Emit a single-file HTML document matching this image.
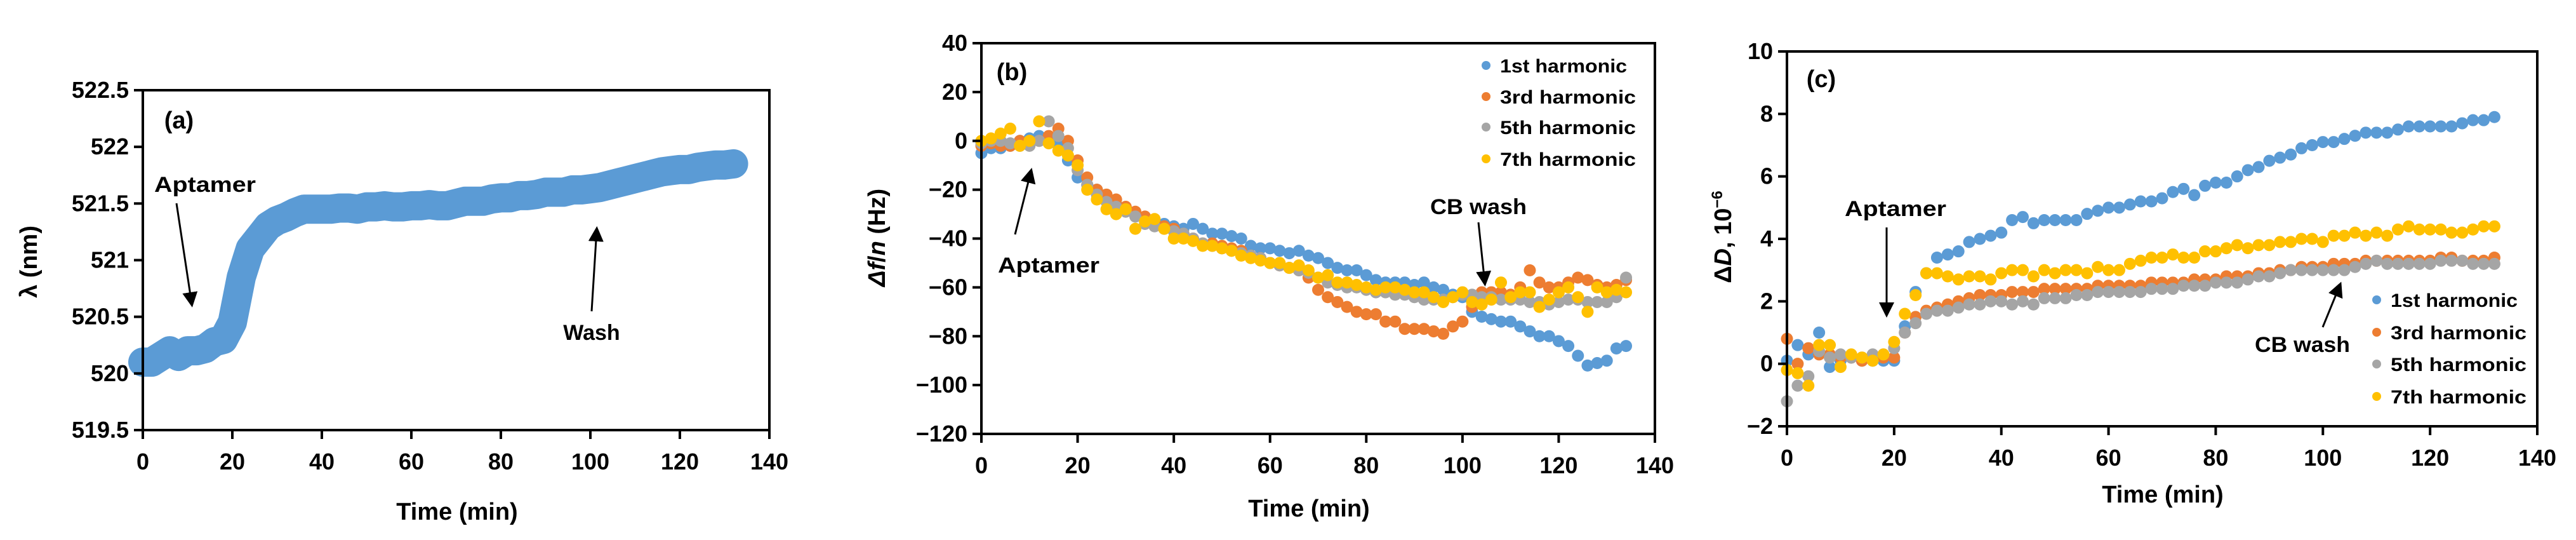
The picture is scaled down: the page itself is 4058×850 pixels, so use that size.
<!DOCTYPE html>
<html><head><meta charset="utf-8"><style>
html,body{margin:0;padding:0;background:#fff;}
svg{display:block;font-family:"Liberation Sans",sans-serif;font-weight:bold;}
</style></head><body>
<svg id="fig" width="4058" height="850" viewBox="0 0 4058 850" xmlns="http://www.w3.org/2000/svg">
<defs><marker id="ah" markerWidth="8" markerHeight="8" refX="6" refY="4" orient="auto" markerUnits="strokeWidth"><path d="M0,0 L8,4 L0,8 z" fill="#000"/></marker></defs>
</svg>
<script>
// ---------- data ----------
const timeA = [0,2,4,6,8,10,12,14,16,18,20,22,24,26,28,30,32,34,36,38,40,42,44,46,48,50,52,54,56,58,60,62,64,66,68,70,72,74,76,78,80,82,84,86,88,90,92,94,96,98,100,102,104,106,108,110,112,114,116,118,120,122,124,126,128,130,132];
const lambdaA = [520.1,520.1,520.15,520.2,520.15,520.2,520.2,520.22,520.28,520.3,520.45,520.85,521.1,521.2,521.3,521.35,521.38,521.42,521.45,521.45,521.45,521.45,521.46,521.46,521.45,521.47,521.47,521.48,521.47,521.47,521.48,521.48,521.49,521.48,521.48,521.5,521.52,521.52,521.52,521.54,521.55,521.55,521.57,521.57,521.58,521.6,521.6,521.6,521.62,521.62,521.63,521.64,521.66,521.68,521.7,521.72,521.74,521.76,521.78,521.79,521.8,521.8,521.82,521.83,521.84,521.84,521.85];
const ticksAy = [519.5,520,520.5,521,521.5,522,522.5];
const ticksAyLabels = ["519.5","520","520.5","521","521.5","522","522.5"];
const ticksX = [0,20,40,60,80,100,120,140];

const timeB = [0,2,4,6,8,10,12,14,16,18,20,22,24,26,28,30,32,34,36,38,40,42,44,46,48,50,52,54,56,58,60,62,64,66,68,70,72,74,76,78,80,82,84,86,88,90,92,94,96,98,100,102,104,106,108,110,112,114,116,118,120,122,124,126,128,130,132,134];
const freq1 = [-5,-3,-3,-2,0,1,2,0,-2,-8,-15,-18,-20,-23,-26,-28,-30,-32,-33,-34,-35,-36,-34,-36,-38,-38,-39,-40,-43,-44,-44,-45,-46,-45,-47,-48,-50,-52,-53,-53,-55,-57,-58,-58,-58,-59,-58,-60,-61,-63,-64,-70,-72,-73,-74,-74,-76,-78,-80,-80,-82,-84,-88,-92,-91,-90,-85,-84];
const freq3 = [-2,-1,-2,-2,0,0,0,2,5,0,-8,-15,-20,-22,-24,-27,-29,-31,-33,-35,-36,-38,-40,-42,-42,-43,-44,-45,-47,-48,-50,-51,-52,-53,-56,-61,-64,-66,-68,-70,-71,-71,-74,-74,-77,-77,-77,-78,-79,-76,-74,-68,-62,-62,-62,-63,-60,-53,-58,-60,-60,-58,-56,-57,-59,-60,-59,-57];
const freq5 = [-1,0,0,-1,-2,-2,0,8,2,-3,-12,-18,-22,-25,-27,-29,-31,-34,-35,-36,-37,-38,-40,-42,-43,-44,-45,-46,-47,-48,-50,-51,-52,-53,-54,-56,-58,-59,-60,-60,-61,-62,-62,-63,-63,-64,-65,-65,-65,-64,-63,-63,-64,-64,-65,-65,-65,-66,-66,-67,-66,-65,-65,-66,-66,-66,-64,-56];
const freq7 = [0,1,3,5,-2,0,8,-1,-4,-6,-10,-20,-24,-28,-30,-28,-36,-33,-32,-36,-40,-40,-41,-43,-43,-44,-45,-47,-48,-49,-50,-50,-52,-51,-53,-56,-55,-58,-58,-59,-60,-61,-60,-60,-61,-62,-62,-64,-66,-64,-62,-66,-67,-65,-58,-64,-62,-62,-68,-65,-62,-60,-64,-70,-60,-62,-61,-62];
const ticksBy = [-120,-100,-80,-60,-40,-20,0,20,40];

const timeC = [0,2,4,6,8,10,12,14,16,18,20,22,24,26,28,30,32,34,36,38,40,42,44,46,48,50,52,54,56,58,60,62,64,66,68,70,72,74,76,78,80,82,84,86,88,90,92,94,96,98,100,102,104,106,108,110,112,114,116,118,120,122,124,126,128,130,132];
const diss1 = [0.1,0.6,0.3,1.0,-0.1,0.1,0.2,0.1,0.1,0.1,0.1,1.2,2.3,2.9,3.4,3.5,3.6,3.9,4.0,4.1,4.2,4.6,4.7,4.5,4.6,4.6,4.6,4.6,4.8,4.9,5.0,5.0,5.1,5.2,5.2,5.3,5.5,5.6,5.4,5.7,5.8,5.8,6.0,6.2,6.3,6.5,6.6,6.7,6.9,7.0,7.1,7.1,7.2,7.3,7.4,7.4,7.4,7.5,7.6,7.6,7.6,7.6,7.6,7.7,7.8,7.8,7.9];
const diss3 = [0.8,0.0,0.5,0.3,0.3,0.2,0.2,0.1,0.2,0.2,0.2,1.0,1.5,1.7,1.8,1.9,2.0,2.1,2.2,2.2,2.2,2.3,2.3,2.3,2.4,2.4,2.4,2.4,2.4,2.5,2.5,2.5,2.5,2.5,2.6,2.6,2.6,2.6,2.7,2.7,2.7,2.8,2.8,2.8,2.9,2.9,3.0,3.0,3.1,3.1,3.1,3.2,3.2,3.2,3.3,3.3,3.3,3.3,3.3,3.3,3.3,3.4,3.4,3.3,3.3,3.3,3.4];
const diss5 = [-1.2,-0.7,-0.4,0.4,0.2,0.3,0.2,0.2,0.3,0.3,0.5,1.0,1.3,1.6,1.7,1.7,1.8,1.9,1.9,2.0,2.0,1.9,2.0,1.9,2.1,2.1,2.1,2.2,2.2,2.3,2.3,2.3,2.3,2.3,2.4,2.4,2.4,2.5,2.5,2.5,2.6,2.6,2.6,2.7,2.8,2.8,2.9,3.0,3.0,3.0,3.0,3.0,3.0,3.1,3.2,3.3,3.2,3.2,3.2,3.2,3.2,3.3,3.3,3.3,3.2,3.2,3.2];
const diss7 = [-0.2,-0.3,-0.7,0.6,0.6,-0.1,0.3,0.2,0.1,0.3,0.7,1.6,2.2,2.9,2.9,2.8,2.7,2.8,2.8,2.7,2.9,3.0,3.0,2.8,3.0,2.9,3.0,3.0,2.9,3.1,3.0,3.0,3.2,3.3,3.4,3.4,3.5,3.4,3.4,3.6,3.6,3.7,3.8,3.7,3.8,3.8,3.9,3.9,4.0,4.0,3.9,4.1,4.1,4.2,4.1,4.2,4.1,4.3,4.4,4.3,4.3,4.3,4.2,4.2,4.3,4.4,4.4];
const ticksCy = [-2,0,2,4,6,8,10];
const seriesNames = ["1st harmonic","3rd harmonic","5th harmonic","7th harmonic"];
const seriesColors = ["#5B9BD5","#ED7D31","#A5A5A5","#FFC000"];

// ---------- helpers ----------
const NS = "http://www.w3.org/2000/svg";
const svg = document.getElementById("fig");
function mk(tag, attrs, parent, txt){
  const e = document.createElementNS(NS, tag);
  for (const k in attrs) e.setAttribute(k, attrs[k]);
  if (txt !== undefined) e.textContent = txt;
  (parent || svg).appendChild(e);
  return e;
}
function scale(d0,d1,r0,r1){ return v => r0 + (v-d0)/(d1-d0)*(r1-r0); }

function axes(g, box, xs, ys, xt, yt, ytLabels, fs){
  const tl = 14;
  for (let i=0;i<xt.length;i++){
    const x = xs(xt[i]);
    const t = mk("line",{x1:x,y1:box.b,x2:x,y2:box.b+tl,stroke:"#000","stroke-width":4},g);
    
    
    const l = mk("text",{x:x,y:box.b+62,"text-anchor":"middle","font-size":fs},g,String(xt[i]));
    
    
  }
  for (let i=0;i<yt.length;i++){
    const y = ys(yt[i]);
    const t = mk("line",{x1:box.l-tl,y1:y,x2:box.l,y2:y,stroke:"#000","stroke-width":4},g);
    
    
    const l = mk("text",{x:box.l-22,y:y+12,"text-anchor":"end","font-size":fs},g,ytLabels ? ytLabels[i] : String(yt[i]).replace("-","\u2212"));
    
    
  }
  const fr = mk("rect",{x:box.l,y:box.t,width:box.r-box.l,height:box.b-box.t,fill:"none",stroke:"#000","stroke-width":4},g);
  
  
}
function scatter(g, xs, ys, t, v, color, r, name){
  const sg = mk("g",{},g);
  
  
  for (let i=0;i<t.length;i++){
    const c = mk("circle",{cx:xs(t[i]),cy:ys(v[i]),r:r,fill:color},sg);
    
    
  }
}
function arrow(g, x1,y1,x2,y2){
  const a = mk("line",{x1:x1,y1:y1,x2:x2,y2:y2,stroke:"#000","stroke-width":3,"marker-end":"url(#ah)"},g);
  
  
}
function label(g, x, y, txt, fs, name, anchor, len){
  const a = {x:x,y:y,"font-size":fs,"text-anchor":anchor||"start"};
  if (len){ a.textLength = len; a.lengthAdjust = "spacingAndGlyphs"; }
  const t = mk("text",a,g,txt);
  
  
  return t;
}
function legend(g, x, ys){
  const lg = mk("g",{},g);
  
  
  for (let i=0;i<seriesNames.length;i++){
    const e = mk("g",{},lg);
    
    
    mk("circle",{cx:x,cy:ys[i],r:7,fill:seriesColors[i]},e);
    label(e, x+22, ys[i]+11, seriesNames[i], 30, 'legend-label', 'start', i===0?200:214);
  }
}

// ---------- panel a ----------
{
  const g = mk("g",{});  
  const box = {l:225,r:1212,t:142,b:677};
  const xs = scale(0,140,box.l,box.r), ys = scale(519.5,522.5,box.b,box.t);
  let pts = "";
  for (let i=0;i<timeA.length;i++) pts += xs(timeA[i])+","+ys(lambdaA[i])+" ";
  const band = mk("polyline",{points:pts,fill:"none",stroke:"#5B9BD5","stroke-width":46,"stroke-linejoin":"round","stroke-linecap":"round"},g);
  
  
  axes(g, box, xs, ys, ticksX, ticksAy, ticksAyLabels, 36);
  label(g, 720, 818, "Time (min)", 38, 'x-axis-title', 'middle');
  const yt = label(g, 0, 0, "\u03BB (nm)", 38, 'y-axis-title', 'middle');
  yt.setAttribute("transform","translate(58,412) rotate(-90)");
  label(g, 282, 202, "(a)", 38, 'panel-label', 'middle');
  label(g, 243, 302, "Aptamer", 34, 'aptamer-annotation', 'start', 160);
  arrow(g, 278, 320, 302, 478);
  label(g, 932, 535, "Wash", 34, 'wash-annotation', 'middle');
  arrow(g, 932, 490, 940, 362);
}
// ---------- panel b ----------
{
  const g = mk("g",{});  
  const box = {l:1546,r:2607,t:68,b:683};
  const xs = scale(0,140,box.l,box.r), ys = scale(-120,40,box.b,box.t);
  const data = [freq1,freq3,freq5,freq7];
  for (let s=0;s<4;s++) scatter(g, xs, ys, timeB, data[s], seriesColors[s], 9.5, 'series-'+(2*s+1)+'-harmonic');
  axes(g, box, xs, ys, ticksX, ticksBy, null, 36);
  label(g, 2062, 813, "Time (min)", 38, 'x-axis-title', 'middle');
  const yt = mk("text",{"font-size":38,"text-anchor":"middle",transform:"translate(1394,374) rotate(-90)"},g);
  
  
  yt.innerHTML = '<tspan font-style="italic">\u0394f</tspan>/<tspan font-style="italic">n</tspan> (Hz)';
  label(g, 1594, 126, "(b)", 38, 'panel-label', 'middle');
  legend(g, 2341, [103,152,200,250]);
  label(g, 1572, 429, "Aptamer", 34, 'aptamer-annotation', 'start', 160);
  arrow(g, 1599, 369, 1624, 270);
  label(g, 2253, 337, "CB wash", 34, 'cb-wash-annotation', 'start', 152);
  arrow(g, 2329, 350, 2339, 445);
}
// ---------- panel c ----------
{
  const g = mk("g",{});  
  const box = {l:2815,r:3997,t:81,b:671};
  const xs = scale(0,140,box.l,box.r), ys = scale(-2,10,box.b,box.t);
  const data = [diss1,diss3,diss5,diss7];
  for (let s=0;s<4;s++) scatter(g, xs, ys, timeC, data[s], seriesColors[s], 9.5, 'series-'+(2*s+1)+'-harmonic');
  axes(g, box, xs, ys, ticksX, ticksCy, null, 36);
  label(g, 3407, 791, "Time (min)", 38, 'x-axis-title', 'middle');
  const yt = mk("text",{"font-size":38,"text-anchor":"middle",transform:"translate(2727,373) rotate(-90)"},g);
  
  
  yt.innerHTML = '\u0394<tspan font-style="italic">D</tspan>, 10<tspan font-size="24" dy="-14">\u22126</tspan>';
  label(g, 2869, 137, "(c)", 38, 'panel-label', 'middle');
  legend(g, 3744, [472,523,573,624]);
  label(g, 2906, 340, "Aptamer", 34, 'aptamer-annotation', 'start', 160);
  arrow(g, 2972, 358, 2972, 494);
  label(g, 3552, 554, "CB wash", 34, 'cb-wash-annotation', 'start', 150);
  arrow(g, 3659, 515, 3686, 449);
}
</script>
</body></html>
